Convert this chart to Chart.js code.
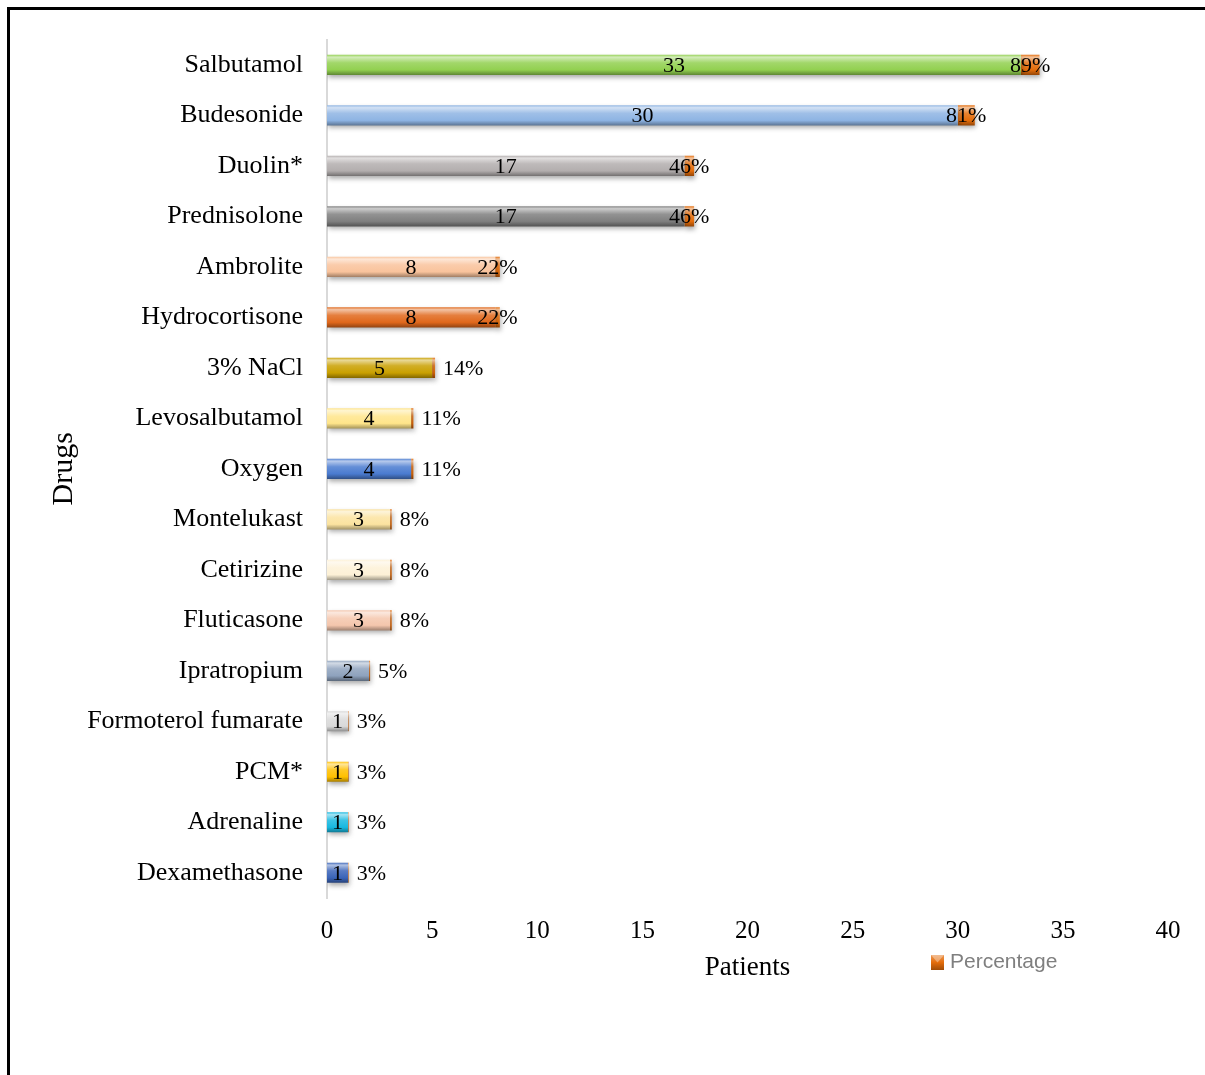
<!DOCTYPE html>
<html><head><meta charset="utf-8">
<style>
html,body{margin:0;padding:0;background:#fff;}
#wrap{position:relative;width:1205px;height:1075px;overflow:hidden;background:#fff;}
#frame{position:absolute;left:7px;top:7px;width:1200px;height:1100px;border:3px solid #000;}
canvas{position:absolute;left:0;top:0;}
</style>
<script src="https://cdn.jsdelivr.net/npm/chart.js@4.4.0/dist/chart.umd.min.js"></script>
</head><body><div id="wrap"><div id="frame"></div><canvas id="c" width="1205" height="1075"></canvas></div>
<script>
const categories = ['Salbutamol','Budesonide','Duolin*','Prednisolone','Ambrolite','Hydrocortisone','3% NaCl','Levosalbutamol','Oxygen','Montelukast','Cetirizine','Fluticasone','Ipratropium','Formoterol fumarate','PCM*','Adrenaline','Dexamethasone'];
const patients = [33,30,17,17,8,8,5,4,4,3,3,3,2,1,1,1,1];
const percentage = [0.89,0.81,0.46,0.46,0.22,0.22,0.14,0.11,0.11,0.08,0.08,0.08,0.05,0.03,0.03,0.03,0.03];
const barColors = ['#92d050','#8eb4e3','#b3aeae','#7f7f7f','#f9c39c','#e0681c','#c9a000','#ffe58a','#4a7bd0','#fbe3a0','#fdf1d6','#f4c6ad','#8ea2bd','#d9d9d9','#ffc000','#17b8e0','#3a64b8'];
const pctColor = '#e46c0a';
const xTicks = {min:0,max:40,step:5};

function hexToRgb(h){h=h.replace('#','');return [parseInt(h.substr(0,2),16),parseInt(h.substr(2,2),16),parseInt(h.substr(4,2),16)];}
function shade(hex,amt){const c=hexToRgb(hex);const t=amt>0?255:0;const a=Math.abs(amt);return 'rgb('+c.map(v=>Math.round(v+(t-v)*a)).join(',')+')';}
function barFill(ctx, base){
  const chart=ctx.chart; const y=chart.scales&&chart.scales.y;
  if(!chart.chartArea||!y||ctx.dataIndex===undefined) return base;
  const cy=y.getPixelForValue(ctx.dataIndex);
  const h=Math.abs(y.getPixelForValue(1)-y.getPixelForValue(0))*0.2;
  const g=chart.ctx.createLinearGradient(0,cy-h,0,cy+h);
  g.addColorStop(0,shade(base,0.05));
  g.addColorStop(0.12,shade(base,0.6));
  g.addColorStop(0.4,shade(base,0.15));
  g.addColorStop(0.75,base);
  g.addColorStop(1,shade(base,-0.35));
  return g;
}

const fx = {
  id:'fx',
  beforeDatasetsDraw(chart){
    const c=chart.ctx; c.save();
    c.shadowColor='rgba(0,0,0,0.35)'; c.shadowBlur=5; c.shadowOffsetY=3; c.shadowOffsetX=1;
  },
  afterDatasetsDraw(chart){
    const c=chart.ctx; c.restore(); c.save();
    c.fillStyle='#000'; c.font='22px "Liberation Serif"'; c.textBaseline='middle';
    const m0=chart.getDatasetMeta(0), m1=chart.getDatasetMeta(1);
    m0.data.forEach((el,i)=>{
      c.textAlign='center';
      c.fillText(String(patients[i]),(el.x+el.base)/2,el.y+1);
      const e1=m1.data[i];
      const txt=Math.round(percentage[i]*100)+'%';
      if(percentage[i]>=0.2){ c.textAlign='center'; c.fillText(txt,(e1.x+e1.base)/2,e1.y+1); }
      else { c.textAlign='left'; c.fillText(txt,e1.x+8,e1.y+1); }
    });
    c.restore();
  },
  afterDraw(chart){
    const c=chart.ctx; c.save();
    const x=931,y=955,w=13,h=15;
    const g=c.createLinearGradient(0,y,0,y+h);
    g.addColorStop(0,shade(pctColor,0.3)); g.addColorStop(0.5,pctColor); g.addColorStop(1,shade(pctColor,-0.3));
    c.fillStyle=g; c.fillRect(x,y,w,h);
    c.fillStyle='rgba(255,255,255,0.35)';
    c.beginPath(); c.moveTo(x,y); c.lineTo(x+w,y); c.lineTo(x+w/2,y+h/2); c.closePath(); c.fill();
    c.fillStyle='#7f7f7f'; c.font='21px "Liberation Sans"'; c.textAlign='left'; c.textBaseline='middle';
    c.fillText(chart.data.datasets[1].label,950,962);
    c.restore();
  }
};

new Chart(document.getElementById('c'),{
  type:'bar',
  data:{labels:categories,datasets:[
    {label:'Patients',data:patients,backgroundColor:(ctx)=>barFill(ctx,barColors[ctx.dataIndex]||barColors[0]),barPercentage:0.4,categoryPercentage:1},
    {label:'Percentage',data:percentage,backgroundColor:(ctx)=>barFill(ctx,pctColor),barPercentage:0.4,categoryPercentage:1}
  ]},
  options:{
    indexAxis:'y',responsive:false,animation:false,
    layout:{padding:{left:42,right:37,top:39,bottom:87}},
    plugins:{legend:{display:false},tooltip:{enabled:false}},
    scales:{
      x:{stacked:true,min:xTicks.min,max:xTicks.max,
        ticks:{stepSize:xTicks.step,color:'#000',font:{family:'Liberation Serif',size:25},padding:18,maxRotation:0},
        grid:{display:false,drawTicks:false},border:{display:false},
        title:{display:true,text:'Patients',color:'#000',font:{family:'Liberation Serif',size:27},padding:{top:0,bottom:4}},
        afterFit(s){s.height=90;}},
      y:{stacked:true,
        ticks:{color:'#000',font:{family:'Liberation Serif',size:26},padding:24,autoSkip:false},
        grid:{display:false,drawTicks:false},border:{display:true,color:'#d9d9d9',width:2},
        title:{display:true,text:'Drugs',color:'#000',font:{family:'Liberation Serif',size:30},padding:{top:4,bottom:4}},
        afterFit(s){s.width=285;}}
    }
  },
  plugins:[fx]
});
</script></body></html>
